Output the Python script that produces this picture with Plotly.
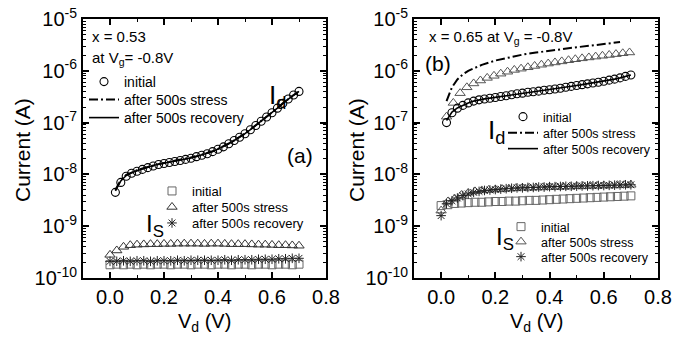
import plotly.graph_objects as go

# ---------------- data ----------------
# panel (a): x = 0.53
a_vd_id = [0.02, 0.04, 0.06, 0.08, 0.10, 0.12, 0.14, 0.16, 0.18, 0.20, 0.22, 0.24,
           0.26, 0.28, 0.30, 0.32, 0.34, 0.36, 0.38, 0.40, 0.42, 0.44, 0.46, 0.48,
           0.50, 0.52, 0.54, 0.56, 0.58, 0.60, 0.62, 0.64, 0.66, 0.68, 0.70]
a_id_initial = [4.5e-9, 7.0e-9, 9.2e-9, 1.05e-8, 1.15e-8, 1.25e-8, 1.35e-8, 1.45e-8, 1.55e-8,
                1.62e-8, 1.7e-8, 1.78e-8, 1.85e-8, 1.95e-8, 2.05e-8, 2.2e-8, 2.35e-8, 2.5e-8,
                2.75e-8, 3.05e-8, 3.4e-8, 3.9e-8, 4.5e-8, 5.2e-8, 6.1e-8, 7.3e-8, 8.8e-8,
                1.06e-7, 1.28e-7, 1.55e-7, 1.9e-7, 2.35e-7, 2.85e-7, 3.4e-7, 4.0e-7]
a_id_stress = [5.0e-9, 7.8e-9, 9.8e-9, 1.1e-8, 1.2e-8, 1.3e-8, 1.4e-8, 1.5e-8, 1.58e-8,
               1.66e-8, 1.74e-8, 1.82e-8, 1.9e-8, 2.0e-8, 2.1e-8, 2.24e-8, 2.4e-8, 2.56e-8,
               2.8e-8, 3.1e-8, 3.45e-8, 3.95e-8, 4.55e-8, 5.25e-8, 6.15e-8, 7.35e-8, 8.85e-8,
               1.07e-7, 1.29e-7, 1.56e-7, 1.9e-7, 2.35e-7, 2.85e-7, 3.4e-7, 4.0e-7]
a_id_recovery = [4.8e-9, 7.5e-9, 9.5e-9, 1.08e-8, 1.18e-8, 1.28e-8, 1.38e-8, 1.48e-8, 1.57e-8,
                 1.64e-8, 1.72e-8, 1.8e-8, 1.88e-8, 1.98e-8, 2.08e-8, 2.22e-8, 2.38e-8, 2.53e-8,
                 2.78e-8, 3.08e-8, 3.43e-8, 3.93e-8, 4.52e-8, 5.22e-8, 6.12e-8, 7.32e-8, 8.82e-8,
                 1.06e-7, 1.28e-7, 1.55e-7, 1.9e-7, 2.35e-7, 2.85e-7, 3.4e-7, 4.0e-7]

a_vd_is = [0.0, 0.025, 0.05, 0.075, 0.1, 0.125, 0.15, 0.175, 0.2, 0.225, 0.25, 0.275, 0.3,
           0.325, 0.35, 0.375, 0.4, 0.425, 0.45, 0.475, 0.5, 0.525, 0.55, 0.575, 0.6,
           0.625, 0.65, 0.675, 0.7]
a_is_initial = [1.8e-10, 1.85e-10, 1.8e-10, 1.85e-10, 1.8e-10, 1.85e-10, 1.8e-10, 1.85e-10,
                1.85e-10, 1.8e-10, 1.85e-10, 1.85e-10, 1.8e-10, 1.85e-10, 1.85e-10, 1.8e-10,
                1.85e-10, 1.85e-10, 1.8e-10, 1.85e-10, 1.85e-10, 1.8e-10, 1.85e-10, 1.85e-10,
                1.8e-10, 1.85e-10, 1.85e-10, 1.8e-10, 1.85e-10]
a_is_stress = [2.8e-10, 3.4e-10, 4.0e-10, 4.3e-10, 4.4e-10, 4.45e-10, 4.5e-10, 4.5e-10,
               4.55e-10, 4.55e-10, 4.6e-10, 4.6e-10, 4.6e-10, 4.6e-10, 4.55e-10, 4.6e-10,
               4.6e-10, 4.55e-10, 4.5e-10, 4.5e-10, 4.5e-10, 4.45e-10, 4.4e-10, 4.4e-10,
               4.35e-10, 4.3e-10, 4.3e-10, 4.25e-10, 4.2e-10]
a_is_recovery = [2.1e-10, 2.1e-10, 2.15e-10, 2.1e-10, 2.15e-10, 2.15e-10, 2.1e-10, 2.15e-10,
                 2.15e-10, 2.15e-10, 2.2e-10, 2.15e-10, 2.2e-10, 2.2e-10, 2.2e-10, 2.2e-10,
                 2.2e-10, 2.25e-10, 2.2e-10, 2.25e-10, 2.25e-10, 2.25e-10, 2.3e-10, 2.3e-10,
                 2.3e-10, 2.35e-10, 2.35e-10, 2.4e-10, 2.4e-10]

# panel (b): x = 0.65
b_vd_id = a_vd_id
b_id_initial = [1.0e-7, 1.55e-7, 1.9e-7, 2.15e-7, 2.4e-7, 2.6e-7, 2.75e-7, 2.85e-7, 2.95e-7,
                3.05e-7, 3.2e-7, 3.3e-7, 3.45e-7, 3.6e-7, 3.7e-7, 3.85e-7, 3.95e-7, 4.05e-7,
                4.2e-7, 4.3e-7, 4.45e-7, 4.6e-7, 4.8e-7, 5.0e-7, 5.2e-7, 5.4e-7, 5.6e-7,
                5.8e-7, 6.0e-7, 6.3e-7, 6.6e-7, 6.9e-7, 7.3e-7, 7.8e-7, 8.3e-7]
b_id_recovery = [1.1e-7, 1.6e-7, 1.92e-7, 2.17e-7, 2.4e-7, 2.6e-7, 2.75e-7, 2.87e-7, 2.97e-7,
                 3.07e-7, 3.2e-7, 3.32e-7, 3.45e-7, 3.6e-7, 3.72e-7, 3.85e-7, 3.97e-7, 4.07e-7,
                 4.2e-7, 4.32e-7, 4.46e-7, 4.6e-7, 4.8e-7, 5.0e-7, 5.2e-7, 5.4e-7, 5.6e-7,
                 5.8e-7, 6.05e-7, 6.3e-7, 6.6e-7, 6.9e-7, 7.3e-7, 7.8e-7, 8.3e-7]
b_vd_stress_line = [0.02, 0.04, 0.06, 0.08, 0.10, 0.12, 0.15, 0.20, 0.25, 0.30, 0.35, 0.40,
                    0.45, 0.50, 0.55, 0.60, 0.66]
b_id_stress_line = [2.6e-7, 4.8e-7, 6.8e-7, 8.5e-7, 1.0e-6, 1.12e-6, 1.3e-6, 1.58e-6, 1.83e-6,
                    2.05e-6, 2.25e-6, 2.45e-6, 2.65e-6, 2.85e-6, 3.05e-6, 3.3e-6, 3.6e-6]
b_vd_id_tri = [0.02, 0.045, 0.07, 0.095, 0.12, 0.145, 0.17, 0.195, 0.22, 0.245, 0.27, 0.295,
               0.32, 0.345, 0.37, 0.395, 0.42, 0.445, 0.47, 0.495, 0.52, 0.545, 0.57, 0.595,
               0.62, 0.645, 0.67, 0.695]
b_id_tri = [1.3e-7, 2.4e-7, 3.7e-7, 4.8e-7, 5.7e-7, 6.5e-7, 7.3e-7, 8.0e-7, 8.8e-7, 9.6e-7,
            1.04e-6, 1.1e-6, 1.17e-6, 1.24e-6, 1.31e-6, 1.38e-6, 1.45e-6, 1.52e-6, 1.6e-6,
            1.67e-6, 1.74e-6, 1.81e-6, 1.88e-6, 1.95e-6, 2.02e-6, 2.1e-6, 2.18e-6, 2.26e-6]

b_vd_is = a_vd_is
b_is_initial = [2.5e-9, 2.6e-9, 2.75e-9, 2.8e-9, 2.85e-9, 2.9e-9, 2.9e-9, 2.95e-9, 3.0e-9,
                3.0e-9, 3.05e-9, 3.05e-9, 3.1e-9, 3.15e-9, 3.15e-9, 3.2e-9, 3.25e-9, 3.3e-9,
                3.35e-9, 3.4e-9, 3.45e-9, 3.5e-9, 3.55e-9, 3.6e-9, 3.65e-9, 3.7e-9, 3.75e-9,
                3.8e-9, 3.85e-9]
b_is_stress = [2.0e-9, 3.0e-9, 3.4e-9, 4.0e-9, 4.4e-9, 4.7e-9, 4.9e-9, 5.0e-9, 5.1e-9,
               5.2e-9, 5.3e-9, 5.4e-9, 5.5e-9, 5.5e-9, 5.6e-9, 5.6e-9, 5.7e-9, 5.7e-9, 5.8e-9,
               5.8e-9, 5.9e-9, 5.9e-9, 6.0e-9, 6.0e-9, 6.1e-9, 6.1e-9, 6.2e-9, 6.2e-9, 6.3e-9]
b_vd_is_rec = [0.0, 0.02, 0.04, 0.06, 0.08, 0.10, 0.12, 0.14, 0.16, 0.18, 0.20, 0.22, 0.24,
               0.26, 0.28, 0.30, 0.32, 0.34, 0.36, 0.38, 0.40, 0.42, 0.44, 0.46, 0.48, 0.50,
               0.52, 0.54, 0.56, 0.58, 0.60, 0.62, 0.64, 0.66, 0.68, 0.70]
b_is_recovery = [1.6e-9, 2.7e-9, 3.1e-9, 3.5e-9, 3.9e-9, 4.2e-9, 4.5e-9, 4.7e-9, 4.9e-9,
                 5.0e-9, 5.1e-9, 5.2e-9, 5.3e-9, 5.4e-9, 5.5e-9, 5.5e-9, 5.6e-9, 5.6e-9,
                 5.7e-9, 5.7e-9, 5.8e-9, 5.8e-9, 5.85e-9, 5.9e-9, 5.9e-9, 5.95e-9, 6.0e-9,
                 6.0e-9, 6.05e-9, 6.1e-9, 6.1e-9, 6.15e-9, 6.2e-9, 6.25e-9, 6.3e-9, 6.3e-9]

x_tickvals = [0.0, 0.2, 0.4, 0.6, 0.8]
x_ticktext = ["0.0", "0.2", "0.4", "0.6", "0.8"]
y_tickvals = [1e-10, 1e-9, 1e-8, 1e-7, 1e-6, 1e-5]
y_ticktext = ["10<sup>-10</sup>", "10<sup>-9</sup>", "10<sup>-8</sup>", "10<sup>-7</sup>",
              "10<sup>-6</sup>", "10<sup>-5</sup>"]
legend_labels = ["initial", "after 500s stress", "after 500s recovery"]

# ---------------- figure ----------------
W, H = 693, 338
MT, MB = 19, 60
PH = H - MT - MB
FONT = "Liberation Sans, Arial, Helvetica, sans-serif"


def px(x):
    return x / W


def py(y):
    return (H - MB - y) / PH


fig = go.Figure()

circ = dict(symbol="circle-open", size=8, color="black", line=dict(width=1.1, color="black"))
tri_a = dict(symbol="triangle-up-open", size=9, color="#333", line=dict(width=1, color="#333"))
tri_b = dict(symbol="triangle-up-open", size=9, color="#555", line=dict(width=1, color="#555"))
sq = dict(symbol="square-open", size=8, color="#666", line=dict(width=1, color="#666"))
star = dict(symbol="asterisk-open", size=8, color="#222", line=dict(width=1, color="#222"))
dashdot = dict(color="black", width=2, dash="9px,3px,2px,3px")
solid = dict(color="black", width=1.6)

# one legend per row so that every row can be placed like the reference
# (legend left x, row centre y, font size)
rows = {
    "legend": (84, 82, 14), "legend2": (84, 100, 14), "legend3": (84, 118, 14),
    "legend4": (152, 191, 13), "legend5": (152, 207, 13), "legend6": (152, 223, 13),
    "legend7": (503, 117, 12.5), "legend8": (503, 133, 12.5), "legend9": (503, 149, 12.5),
    "legend10": (501, 227, 12.5), "legend11": (501, 242, 12.5), "legend12": (501, 257, 12.5),
}

# panel (a) Id
fig.add_trace(go.Scatter(x=a_vd_id, y=a_id_stress, mode="lines", line=dashdot,
                         name=legend_labels[1], legend="legend2", xaxis="x", yaxis="y"))
fig.add_trace(go.Scatter(x=a_vd_id, y=a_id_recovery, mode="lines", line=solid,
                         name=legend_labels[2], legend="legend3", xaxis="x", yaxis="y"))
fig.add_trace(go.Scatter(x=a_vd_id, y=a_id_initial, mode="markers", marker=circ,
                         name=legend_labels[0], legend="legend", xaxis="x", yaxis="y"))
# panel (a) Is
fig.add_trace(go.Scatter(x=a_vd_is, y=a_is_initial, mode="markers", marker=sq,
                         name=legend_labels[0], legend="legend4", xaxis="x", yaxis="y"))
fig.add_trace(go.Scatter(x=a_vd_is, y=a_is_stress, mode="markers", marker=tri_a,
                         name=legend_labels[1], legend="legend5", xaxis="x", yaxis="y"))
fig.add_trace(go.Scatter(x=a_vd_is, y=a_is_recovery, mode="markers", marker=star,
                         name=legend_labels[2], legend="legend6", xaxis="x", yaxis="y"))

# panel (b) Id
fig.add_trace(go.Scatter(x=b_vd_stress_line, y=b_id_stress_line, mode="lines", line=dashdot,
                         name=legend_labels[1], legend="legend8", xaxis="x2", yaxis="y2"))
fig.add_trace(go.Scatter(x=b_vd_id_tri, y=b_id_tri, mode="markers", marker=tri_b,
                         name="after 500s stress", showlegend=False, xaxis="x2", yaxis="y2"))
fig.add_trace(go.Scatter(x=b_vd_id, y=b_id_recovery, mode="lines", line=solid,
                         name=legend_labels[2], legend="legend9", xaxis="x2", yaxis="y2"))
fig.add_trace(go.Scatter(x=b_vd_id, y=b_id_initial, mode="markers", marker=circ,
                         name=legend_labels[0], legend="legend7", xaxis="x2", yaxis="y2"))
# panel (b) Is
fig.add_trace(go.Scatter(x=b_vd_is, y=b_is_initial, mode="markers", marker=sq,
                         name=legend_labels[0], legend="legend10", xaxis="x2", yaxis="y2"))
fig.add_trace(go.Scatter(x=b_vd_is, y=b_is_stress, mode="markers", marker=tri_b,
                         name=legend_labels[1], legend="legend11", xaxis="x2", yaxis="y2"))
fig.add_trace(go.Scatter(x=b_vd_is_rec, y=b_is_recovery, mode="markers", marker=star,
                         name=legend_labels[2], legend="legend12", xaxis="x2", yaxis="y2"))

minor_y = [k * 10 ** n for n in range(-10, -5) for k in range(2, 10)]

xax = dict(range=[-0.1, 0.8], tickvals=x_tickvals, ticktext=x_ticktext, ticks="inside",
           ticklen=6, tickwidth=1.5, tickcolor="black", showline=True, linewidth=2,
           linecolor="black", mirror="ticks", showgrid=False, zeroline=False,
           automargin=False,
           minor=dict(tickvals=[0.1, 0.3, 0.5, 0.7], ticks="inside", ticklen=3,
                      tickwidth=1.2, tickcolor="black", showgrid=False),
           tickfont=dict(family=FONT, size=20, color="black"))
yax = dict(type="log", range=[-10, -5], tickvals=y_tickvals, ticktext=y_ticktext,
           ticks="inside", ticklen=6, tickwidth=1.5, tickcolor="black", showline=True,
           linewidth=2, linecolor="black", mirror="ticks", showgrid=False, zeroline=False,
           automargin=False,
           minor=dict(tickvals=minor_y, ticks="inside", ticklen=3, tickwidth=1,
                      tickcolor="black", showgrid=False),
           tickfont=dict(family=FONT, size=20, color="black"), domain=[0, 1])

fig.update_layout(
    width=W, height=H, margin=dict(l=0, r=0, t=MT, b=MB, autoexpand=False),
    paper_bgcolor="white", plot_bgcolor="white",
    font=dict(family=FONT, color="black"),
    xaxis={**xax, "domain": [px(83), px(326)], "anchor": "y"},
    yaxis={**yax, "anchor": "x"},
    xaxis2={**xax, "domain": [px(414), px(658)], "anchor": "y2"},
    yaxis2={**yax, "anchor": "x2"},
)

for key, (lx, ly, fs) in rows.items():
    fig.update_layout({key: dict(bgcolor="rgba(0,0,0,0)", borderwidth=0, xanchor="left",
                                 yanchor="middle", itemwidth=30, x=px(lx), y=py(ly),
                                 font=dict(family=FONT, size=fs, color="black"))})

ann = []


def add_text(text, x, y, size, xanchor="left", angle=0):
    ann.append(dict(text=text, x=px(x), y=py(y), xref="paper", yref="paper",
                    xanchor=xanchor, yanchor="middle", showarrow=False, textangle=angle,
                    font=dict(family=FONT, size=size, color="black")))


add_text("x = 0.53", 90, 37, 15)
add_text("at V<sub>g</sub>= -0.8V", 90, 58, 15)
add_text("(a)", 300, 155, 21, xanchor="center")
add_text("I<sub>d</sub>", 267, 97, 26)
add_text("I<sub>S</sub>", 144, 225, 24)
add_text("x = 0.65 at V<sub>g</sub> = -0.8V", 427, 38, 15)
add_text("(b)", 423, 63, 21)
add_text("I<sub>d</sub>", 486, 131, 26)
add_text("I<sub>S</sub>", 494, 238, 24)
add_text("Current (A)", 22, 150, 21, xanchor="center", angle=-90)
add_text("Current (A)", 356, 150, 21, xanchor="center", angle=-90)
add_text("V<sub>d</sub> (V)", 204, 322, 20, xanchor="center")
add_text("V<sub>d</sub> (V)", 536, 322, 20, xanchor="center")
fig.update_layout(annotations=ann)

fig.write_html("out.html", config={"displayModeBar": False},
               post_script="document.body.style.margin='0px';")
